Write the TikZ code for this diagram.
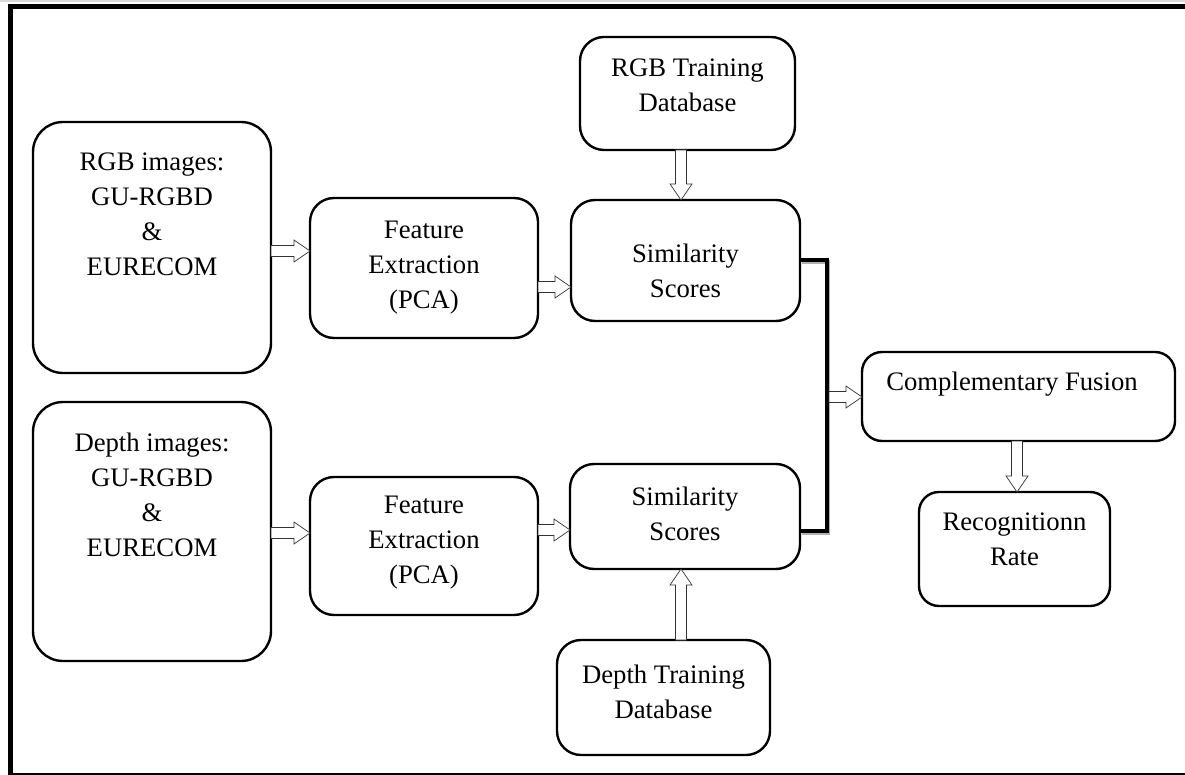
\documentclass[tikz,border=0pt]{standalone}
\usepackage{fontspec}
\setmainfont{Liberation Serif}
\usetikzlibrary{calc}
\newcommand\hollowarrow[2]{%
  \draw[hollow] let \p1=(#1), \p2=(#2),
        \n1={atan2(\y2-\y1,\x2-\x1)}, \n2={veclen(\x2-\x1,\y2-\y1)} in
    ([shift={(\p1)},rotate=\n1]0pt,5.5pt)
    -- ([shift={(\p1)},rotate=\n1]{\n2*1pt-16pt},5.5pt)
    -- ([shift={(\p1)},rotate=\n1]{\n2*1pt-16pt},11pt)
    -- ([shift={(\p1)},rotate=\n1]{\n2*1pt},0pt)
    -- ([shift={(\p1)},rotate=\n1]{\n2*1pt-16pt},-11pt)
    -- ([shift={(\p1)},rotate=\n1]{\n2*1pt-16pt},-5.5pt)
    -- ([shift={(\p1)},rotate=\n1]0pt,-5.5pt) -- cycle;}
\begin{document}
\begin{tikzpicture}[x=1pt,y=-1pt,
  box/.style={draw=black, line width=2.4pt, rounded corners=24pt, fill=white, inner sep=0pt, outer sep=0pt},
  txt/.style={align=center, inner sep=0pt, font=\fontsize{26.7}{35}\selectfont},
  hollow/.style={draw=black!80, line width=0.7pt, fill=white},
  bracket/.style={line width=3.5pt, line join=miter}
]
\useasboundingbox (0,0) rectangle (1185,775);
\fill[white] (0,0) rectangle (1185,775);

% frame
\draw[gray!30, line width=1.5pt] (0,1) -- (1185,1);
\draw[line width=5pt] (10.5,775) -- (10.5,6.5) -- (1185,6.5);
\draw[line width=1.2pt] (8,774) -- (1185,774);

% boxes
\node[box, rounded corners=30pt, minimum width=238pt, minimum height=251pt] (rgb) at (152,247.5) {};
\node[box, rounded corners=30pt, minimum width=238pt, minimum height=259pt] (dep) at (152,531.5) {};
\node[box, minimum width=228pt, minimum height=140pt] (fe1) at (424,268) {};
\node[box, minimum width=228pt, minimum height=138pt] (fe2) at (424,546) {};
\node[box, minimum width=229pt, minimum height=121pt] (ss1) at (685.5,260.5) {};
\node[box, minimum width=230pt, minimum height=105pt] (ss2) at (685,516.5) {};
\node[box, minimum width=215pt, minimum height=113pt] (rtd) at (687.5,93.5) {};
\node[box, minimum width=213pt, minimum height=115pt] (dtd) at (663.5,697.5) {};
\node[box, rounded corners=20pt, minimum width=313pt, minimum height=89pt] (cf) at (1018.5,396.5) {};
\node[box, rounded corners=20pt, minimum width=191pt, minimum height=114pt] (rec) at (1014.5,549) {};

% texts
\node[txt] (rgbt) at (152,214.5) {RGB images:\\GU-RGBD\\\&\\EURECOM};
\node[txt] (dept) at (152,495) {Depth images:\\GU-RGBD\\\&\\EURECOM};
\node[txt] (fe1t) at (424,268) {Feature\\Extraction\\(PCA)};
\node[txt] (fe2t) at (424,543) {Feature\\Extraction\\(PCA)};
\node[txt] (ss1t) at (685.5,270.5) {Similarity\\Scores};
\node[txt] (ss2t) at (685,513.5) {Similarity\\Scores};
\node[txt] (rtdt) at (687.5,85) {RGB Training\\Database};
\node[txt] (dtdt) at (663.5,691.5) {Depth Training\\Database};
\node[txt] (cft) at (1012,384) {Complementary Fusion};
\node[txt] (rect) at (1014.5,539) {Recognitionn\\Rate};

% helper coordinates
\coordinate (h1) at (0,251);
\coordinate (h2) at (0,287);
\coordinate (h3) at (0,533);
\coordinate (h4) at (0,530);
\coordinate (v1) at (681,0);
\coordinate (v2) at (681,0);
\coordinate (v3) at (1017,0);
\coordinate (bt) at (0,260);
\coordinate (bb) at (0,531);
\coordinate (bx) at (827,0);
\coordinate (bm) at (829,397);

% bracket joining the two similarity boxes
\draw[bracket, gray!60] ([shift={(1.5,2)}]ss1.east |- bt) -- ([shift={(1.5,2)}]bx |- bt) -- ([shift={(1.5,2)}]bx |- bb) -- ([shift={(1.5,2)}]ss2.east |- bb);
\draw[bracket] (ss1.east |- bt) -- (bx |- bt) -- (bx |- bb) -- (ss2.east |- bb);

% arrows
\hollowarrow{rgb.east |- h1}{fe1.west |- h1}
\hollowarrow{fe1.east |- h2}{ss1.west |- h2}
\hollowarrow{dep.east |- h3}{fe2.west |- h3}
\hollowarrow{fe2.east |- h4}{ss2.west |- h4}
\hollowarrow{v1 |- rtd.south}{v1 |- ss1.north}
\hollowarrow{v2 |- dtd.north}{v2 |- ss2.south}
\hollowarrow{bm}{cf.west |- bm}
\hollowarrow{v3 |- cf.south}{v3 |- rec.north}
\end{tikzpicture}
\end{document}
